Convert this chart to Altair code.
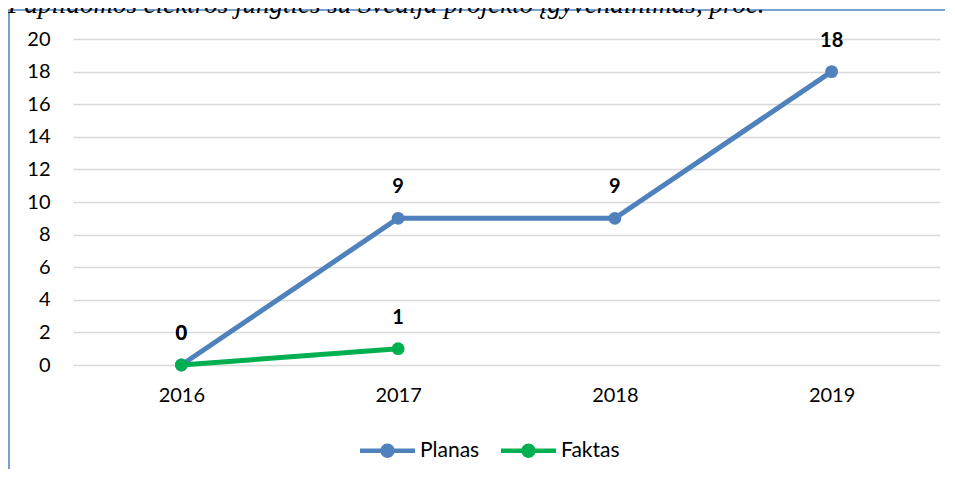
import altair as alt
import pandas as pd

# ---- data ----
years = ["2016", "2017", "2018", "2019"]
planas = [0, 9, 9, 18]
faktas_years = ["2016", "2017"]
faktas = [0, 1]
series = ["Planas", "Faktas"]
colors = ["#4F81BD", "#00B050"]
y_ticks = [0, 2, 4, 6, 8, 10, 12, 14, 16, 18, 20]
title_text = "Papildomos elektros  jungties su Švedija projekto įgyvendinimas, proc."

rows = [{"metai": y, "reiksme": v, "serija": "Planas"} for y, v in zip(years, planas)]
rows += [{"metai": y, "reiksme": v, "serija": "Faktas"} for y, v in zip(faktas_years, faktas)]
df = pd.DataFrame(rows)

W, H = 867, 326
FONT = "Lato"

x = alt.X(
    "metai:N",
    sort=years,
    scale=alt.Scale(type="point", padding=0.5, domain=years),
    axis=alt.Axis(
        title=None, labelAngle=0, domain=False, ticks=False, tickSize=0, grid=False,
        labelPadding=20, labelFontSize=20, labelFont=FONT, labelColor="#000000",
    ),
)
y = alt.Y(
    "reiksme:Q",
    scale=alt.Scale(domain=[0, 20], nice=False),
    axis=alt.Axis(
        title=None, values=y_ticks, domain=False, ticks=False, tickSize=0, grid=True,
        gridColor="#d9d9d9", gridWidth=1.5, labelPadding=23, labelFontSize=20,
        labelFont=FONT, labelColor="#000000",
    ),
)

legend_path = (
    "M-1,-0.085 L1,-0.085 L1,0.085 L-1,0.085 Z "
    "M0.26,0 A0.26,0.26 0 1,1 -0.26,0 A0.26,0.26 0 1,1 0.26,0 Z"
)

legend = alt.Legend(
    title=None, orient="none", legendX=287, legendY=384, direction="horizontal",
    symbolType=legend_path, symbolSize=3025, symbolStrokeWidth=0, symbolOpacity=1,
    labelFontSize=21, labelFont=FONT, labelColor="#000000", labelOffset=5,
    columnPadding=21, padding=0,
)
color = alt.Color("serija:N", scale=alt.Scale(domain=series, range=colors), legend=legend)

base = alt.Chart(df)
lines = base.mark_line(strokeWidth=5).encode(x=x, y=y, color=color)
points = base.mark_circle(size=165, opacity=1).encode(x=x, y=y, color=color)
labels = base.mark_text(
    dy=-31, fontWeight="bold", fontSize=20, font=FONT, color="#000000", baseline="middle"
).encode(x=x, y=y, text="reiksme:Q")

frame = alt.Chart(pd.DataFrame({"k": [0]})).mark_rect(
    fill="transparent", stroke="#4F81BD", strokeWidth=1.5
).encode(
    x=alt.value(-64), x2=alt.value(W + 200), y=alt.value(-29), y2=alt.value(H + 300)
)

title = alt.Chart(pd.DataFrame({"t": [title_text]})).mark_text(
    align="left", baseline="alphabetic", font="Liberation Serif", fontStyle="italic",
    fontSize=27, color="#000000",
).encode(x=alt.value(-65), y=alt.value(-26), text="t:N")

chart = alt.layer(frame, lines, points, labels, title).properties(
    width=W,
    height=H,
    padding={"left": 65, "top": 31, "right": 5, "bottom": 104},
    autosize=alt.AutoSizeParams(type="none"),
    background="#ffffff",
).configure_view(stroke=None)

chart.save("out.html", embed_options={"renderer": "svg", "actions": False})
